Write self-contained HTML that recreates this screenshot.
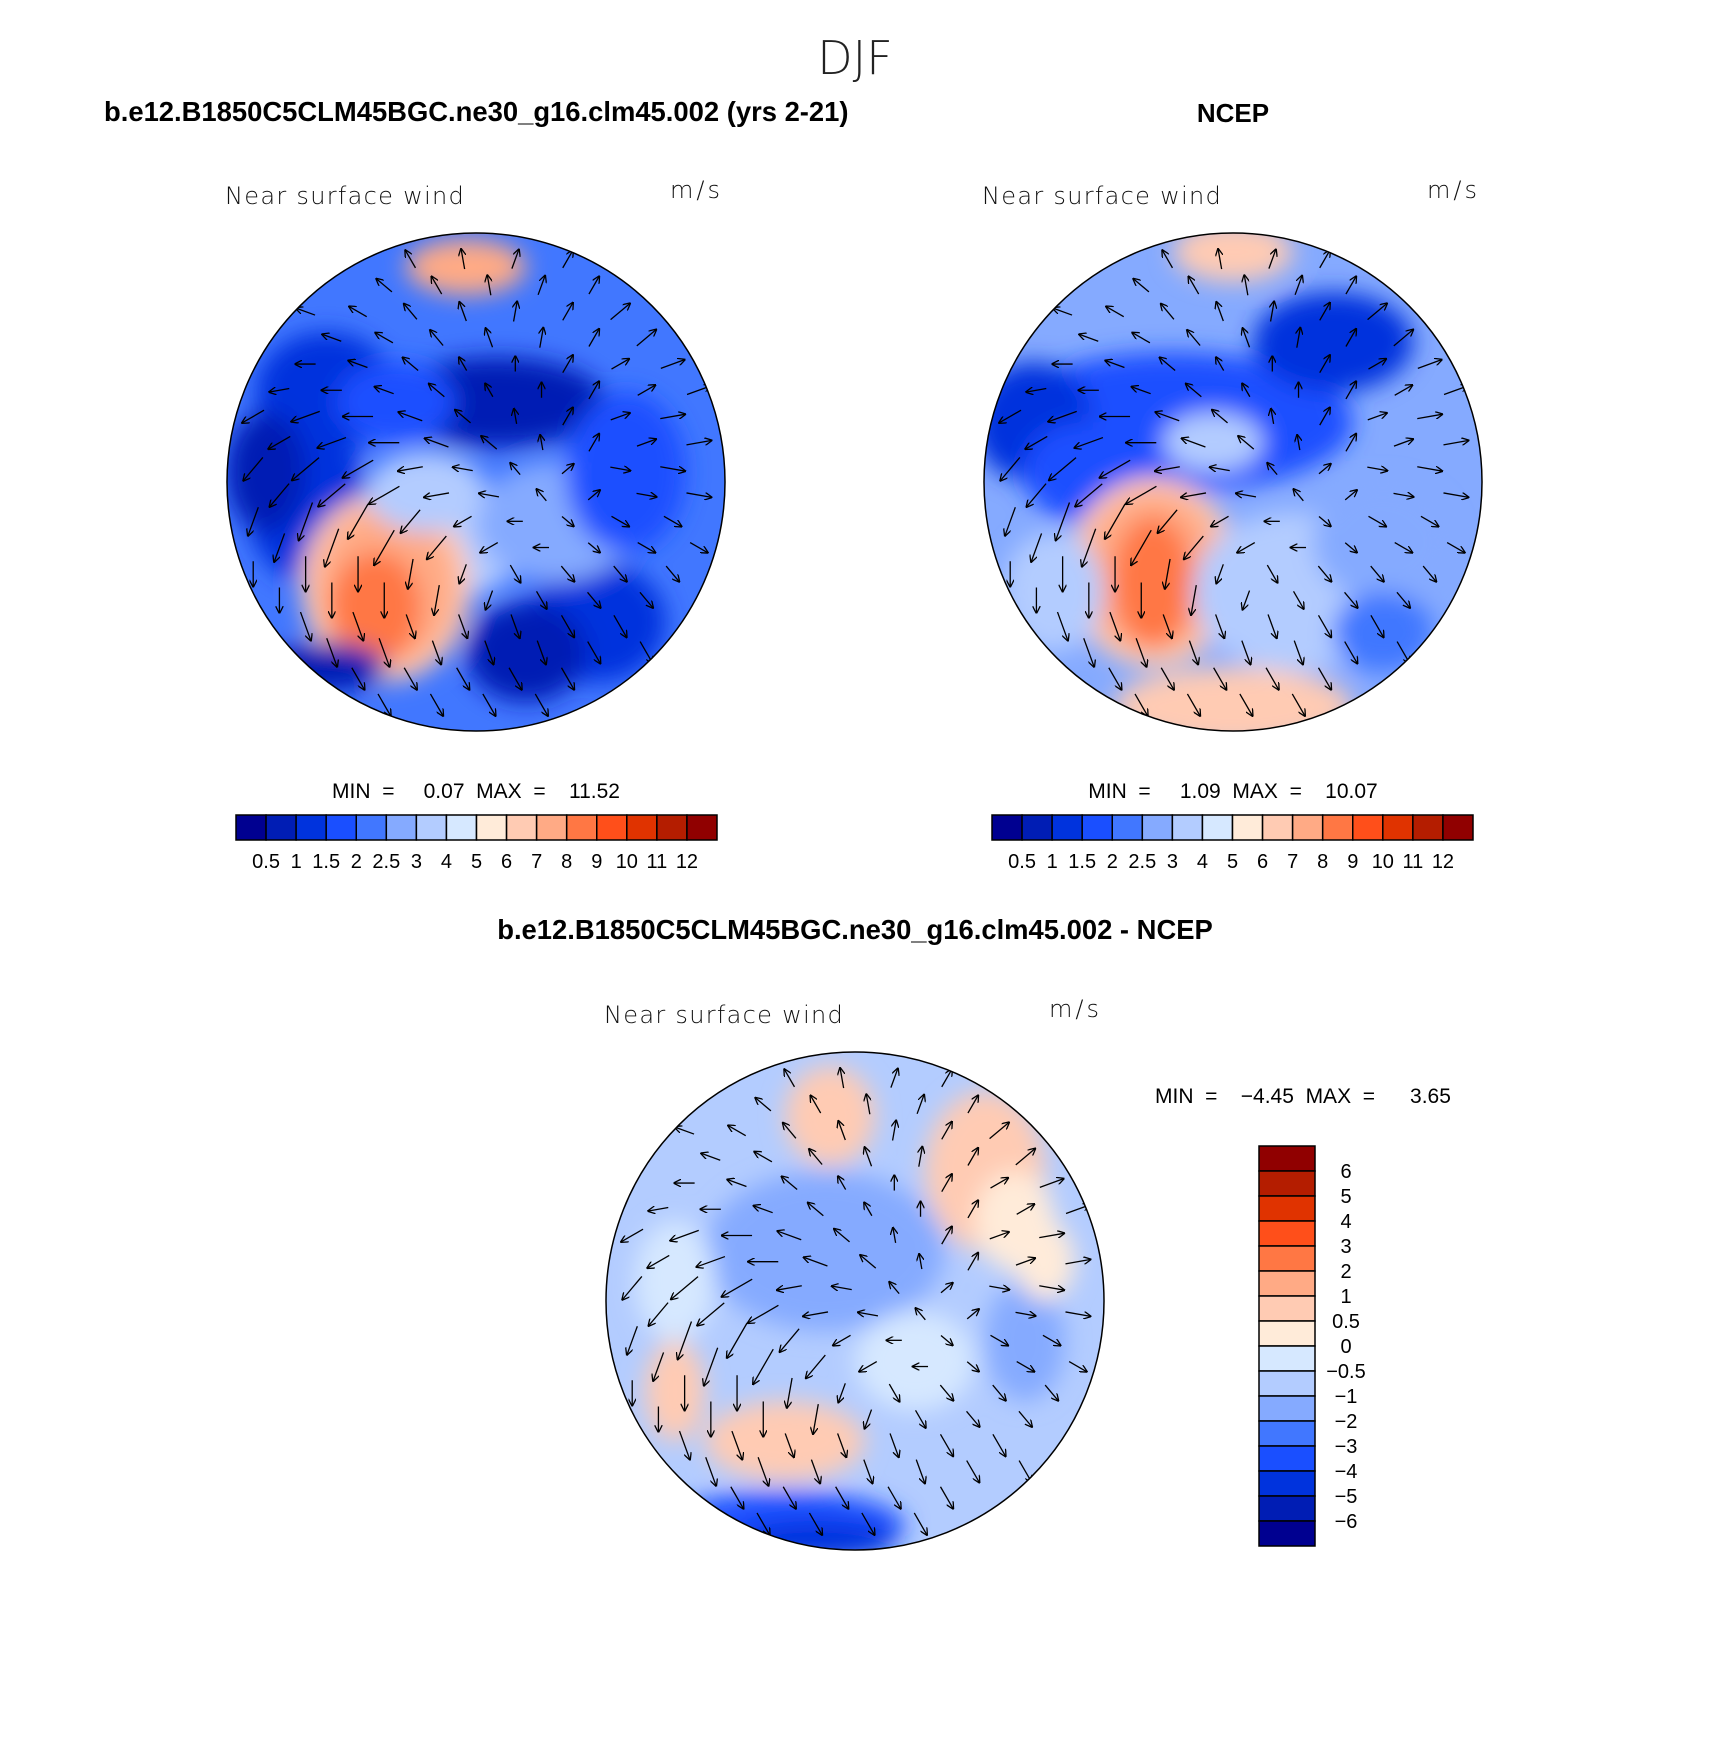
<!DOCTYPE html>
<html><head><meta charset="utf-8"><style>
body{margin:0;background:#fff}
svg{display:block}
text{font-family:"Liberation Sans",sans-serif}
</style></head><body>
<svg id="fig" width="1710" height="1756" viewBox="0 0 1710 1756">
<defs>
<filter id="bl" x="-50%" y="-50%" width="200%" height="200%"><feGaussianBlur stdDeviation="12"/></filter>
<marker id="ah" markerWidth="6" markerHeight="6" refX="5" refY="3" orient="auto"><path d="M0,0 L6,3 L0,6" fill="none" stroke="#000" stroke-width="1"/></marker>
</defs>
<text x="855" y="74" font-size="46" text-anchor="middle" fill="#222" style="font-family:'DejaVu Sans',sans-serif;font-weight:200">DJF</text>
<text x="104" y="121" font-size="27.4" font-weight="bold">b.e12.B1850C5CLM45BGC.ne30_g16.clm45.002 (yrs 2-21)</text>
<text x="1233" y="122" font-size="26" font-weight="bold" text-anchor="middle">NCEP</text>
<text x="855" y="939" font-size="27.4" font-weight="bold" text-anchor="middle">b.e12.B1850C5CLM45BGC.ne30_g16.clm45.002 - NCEP</text>
<g id="maps"></g>
</svg>
<script>
const seqLevels=["0.5","1","1.5","2","2.5","3","4","5","6","7","8","9","10","11","12"];
const seqColors=["#000090","#001db4","#0033dd","#1a4fff","#4177ff","#85aaff","#b3ccff","#d6e8ff","#ffebd9","#ffcbb3","#ffaa85","#ff7744","#ff4f1a","#e03300","#b41d00","#900000"];
const diffLevels=["6","5","4","3","2","1","0.5","0","\u22120.5","\u22121","\u22122","\u22123","\u22124","\u22125","\u22126"];
const diffColors=["#900000","#b41d00","#e03300","#ff4f1a","#ff7744","#ffaa85","#ffcbb3","#ffebd9","#d6e8ff","#b3ccff","#85aaff","#4177ff","#1a4fff","#0033dd","#001db4","#000090"];
// blobs: [dx, dy, rx, ry, colorIndex] relative to map centre
const modelBase=4;
const modelBlobs=[[-150,-90,70,60,2],[20,-80,110,45,1],[-170,20,60,80,2],[-210,-10,40,60,1],[120,140,70,60,2],[50,170,60,50,1],[-80,-80,60,40,3],[-40,60,90,60,6],[80,40,80,60,5],[150,-10,60,80,3],[-90,105,85,95,9],[-90,105,70,80,10],[-100,125,45,55,11],[-10,-215,60,28,10],[-150,185,60,25,1],[-50,10,60,40,6]];
const obsBase=5;
const obsBlobs=[[-60,-60,180,70,3],[100,-140,80,50,2],[-200,-60,60,60,2],[-150,-10,60,50,3],[-80,90,85,95,9],[-80,90,70,80,10],[-80,100,40,65,11],[0,-230,60,30,9],[60,110,100,80,6],[150,60,70,60,5],[0,225,120,40,9],[-180,110,50,60,6],[150,150,50,40,4],[-20,-40,50,30,6]];
const diffBase=9;
const diffBlobs=[[130,-130,60,80,6],[160,-80,40,50,7],[-25,-185,45,50,6],[-30,-50,120,80,10],[-70,140,80,40,6],[-180,90,30,50,6],[-30,-10,60,40,10],[-70,225,120,35,12],[-40,240,80,20,13],[170,40,40,60,10],[-180,-20,40,60,8],[60,60,60,50,8],[190,-40,30,40,7]];
// wind directions (deg) on 9x9 grid
const windAngles=[
[200,210,220,240,260,290,300,310,320],
[190,200,210,230,250,280,300,320,330],
[170,180,200,220,240,270,300,330,340],
[150,160,180,200,220,260,300,340,350],
[130,140,150,170,190,230,320,10,10],
[110,110,120,130,150,180,40,30,30],
[90,90,90,100,110,60,50,50,50],
[80,70,70,70,70,70,60,60,60],
[70,60,60,60,60,60,60,60,60]];
const windSpeeds=[
[3,3,4,4,4,4,4,5,5],[3,4,4,4,4,4,4,5,5],[4,4,4,4,3,3,4,4,5],[5,6,6,5,4,3,4,4,5],[6,7,7,5,4,3,3,4,5],[6,8,8,6,4,3,3,4,4],[5,7,7,6,4,4,4,4,4],[5,6,6,5,5,5,5,5,5],[4,4,5,5,5,5,5,5,5]];
const NS="http://www.w3.org/2000/svg";
const root=document.getElementById('maps');
function el(t,a,p){const e=document.createElementNS(NS,t);for(const k in a)e.setAttribute(k,a[k]);(p||root).appendChild(e);return e;}
function map(id,cx,cy,r,colors,base,blobs){
  const g=el('g',{});
  
  
  const cp=el('clipPath',{id:'cp'+id},g);el('circle',{cx:cx,cy:cy,r:r},cp);
  const fg=el('g',{'clip-path':'url(#cp'+id+')'},g);
  el('circle',{cx:cx,cy:cy,r:r,fill:colors[base]},fg);
  const bg=el('g',{filter:'url(#bl)'},fg);
  blobs.forEach(b=>{const e=el('ellipse',{cx:cx+b[0],cy:cy+b[1],rx:b[2],ry:b[3],fill:colors[b[4]]},bg);
    
    });
  const n=windAngles.length, step=2*r/(n+0.5);
  for(let i=0;i<n;i++)for(let j=0;j<n;j++){
    for(let k=0;k<2;k++){
      const x=cx-r+step*(j+0.5+k*0.5),y=cy-r+step*(i+0.5+k*0.5);
      if(Math.hypot(x-cx,y-cy)>r-8)continue;
      const a=windAngles[i][j]*Math.PI/180,L=windSpeeds[i][j]*5;
      const ar=el('line',{x1:x-Math.cos(a)*L/2,y1:y-Math.sin(a)*L/2,x2:x+Math.cos(a)*L/2,y2:y+Math.sin(a)*L/2,stroke:'#000','stroke-width':1.3,'marker-end':'url(#ah)'},fg);
      
      
    }
  }
  el('circle',{cx:cx,cy:cy,r:r,fill:'none',stroke:'#000','stroke-width':1.5},g);
  const t1=el('text',{x:cx-251,y:cy-278,'font-size':24,fill:'#111',style:"font-family:'DejaVu Sans',sans-serif;font-weight:200;letter-spacing:1.3px"},g);t1.textContent='Near surface wind';
  
  
  const t2=el('text',{x:cx+194,y:cy-284,'font-size':24,fill:'#111',style:"font-family:'DejaVu Sans',sans-serif;font-weight:200;letter-spacing:3px"},g);t2.textContent='m/s';
  
  
}
function hbar(id,x0,y0,w,h,minv,maxv,cx){
  const g=el('g',{});
  
  
  const t=el('text',{x:cx,y:y0-17,'font-size':21,'text-anchor':'middle'},g);t.textContent='MIN  =     '+minv+'  MAX  =    '+maxv;t.style.whiteSpace='pre';
  
  
  const bw=w/seqColors.length;
  seqColors.forEach((c,i)=>{const r=el('rect',{x:x0+i*bw,y:y0,width:bw,height:h,fill:c,stroke:'#000','stroke-width':1.5},g);
    
    });
  seqLevels.forEach((l,i)=>{const tt=el('text',{x:x0+(i+1)*bw,y:y0+h+28,'font-size':20,'text-anchor':'middle'},g);tt.textContent=l;
    
    });
}
map('model-map',476,482,249,seqColors,modelBase,modelBlobs);
map('obs-map',1233,482,249,seqColors,obsBase,obsBlobs);
map('diff-map',855,1301,249,diffColors,diffBase,diffBlobs);
hbar('model-colorbar',236,815,481,25,'0.07','11.52',476);
hbar('obs-colorbar',992,815,481,25,'1.09','10.07',1233);
(function(){
  const g=el('g',{});
  
  
  const t=el('text',{x:1155,y:1103,'font-size':21},g);t.textContent='MIN  =    \u22124.45  MAX  =      3.65';t.style.whiteSpace='pre';
  
  
  const y0=1146,bh=25;
  diffColors.forEach((c,i)=>{const r=el('rect',{x:1259,y:y0+i*bh,width:56,height:bh,fill:c,stroke:'#000','stroke-width':1.5},g);
    
    });
  diffLevels.forEach((l,i)=>{const tt=el('text',{x:1346,y:y0+(i+1)*bh+7,'font-size':20,'text-anchor':'middle'},g);tt.textContent=l;
    
    });
})();
</script>
</body></html>
